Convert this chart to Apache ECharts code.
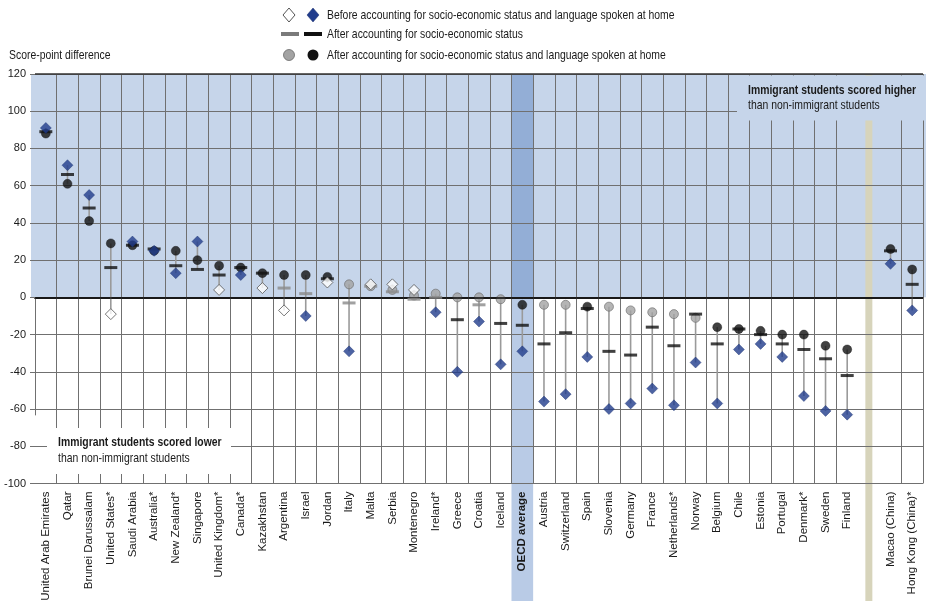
<!DOCTYPE html>
<html>
<head>
<meta charset="utf-8">
<script src="https://cdn.jsdelivr.net/npm/echarts/dist/echarts.min.js"></script>
<style>
  html, body { margin: 0; padding: 0; background: #ffffff; }
  #chart { width: 926px; height: 601px; }
</style>
</head>
<body>
<div id="chart"></div>
<script>
// Categories (the empty entry is the separator before the partner economies)
const countries = [
  'United Arab Emirates', 'Qatar', 'Brunei Darussalam', 'United States*', 'Saudi Arabia',
  'Australia*', 'New Zealand*', 'Singapore', 'United Kingdom*', 'Canada*', 'Kazakhstan',
  'Argentina', 'Israel', 'Jordan', 'Italy', 'Malta', 'Serbia', 'Montenegro', 'Ireland*',
  'Greece', 'Croatia', 'Iceland', 'OECD average', 'Austria', 'Switzerland', 'Spain',
  'Slovenia', 'Germany', 'France', 'Netherlands*', 'Norway', 'Belgium', 'Chile', 'Estonia',
  'Portugal', 'Denmark*', 'Sweden', 'Finland', '', 'Macao (China)', 'Hong Kong (China)*'
];

// Score-point difference before accounting for socio-economic status and language
const beforeAdj = [
  91, 71, 55, -9, 30, 25, 13, 30, 4, 12, 5, -7, -10, 8, -29, 7, 7, 4, -8,
  -40, -13, -36, -29, -56, -52, -32, -60, -57, -49, -58, -35, -57, -28, -25,
  -32, -53, -61, -63, null, 18, -7
];
// After accounting for socio-economic status
const afterSES = [
  89, 66, 48, 16, 28, 26, 17, 15, 12, 16, 13, 5, 2, 10, -3, 6, 3, -1, 0,
  -12, -4, -14, -15, -25, -19, -6, -29, -31, -16, -26, -9, -25, -17, -20,
  -25, -28, -33, -42, null, 25, 7
];
// After accounting for socio-economic status and language spoken at home
const afterSESLang = [
  88, 61, 41, 29, 28, 25, 25, 20, 17, 16, 13, 12, 12, 11, 7, 6, 4, 1, 2,
  0, 0, -1, -4, -4, -4, -5, -5, -7, -8, -9, -11, -16, -17, -18,
  -20, -20, -26, -28, null, 26, 15
];
// Statistically significant differences (1) are drawn in darker colours
const beforeSig = [
  1, 1, 1, 0, 1, 1, 1, 1, 0, 1, 0, 0, 1, 0, 1, 0, 0, 0, 1,
  1, 1, 1, 1, 1, 1, 1, 1, 1, 1, 1, 1, 1, 1, 1, 1, 1, 1, 1, 0, 1, 1
];
const sesSig = [
  1, 1, 1, 1, 1, 1, 1, 1, 1, 1, 1, 0, 0, 1, 0, 0, 0, 0, 0,
  1, 0, 1, 1, 1, 1, 1, 1, 1, 1, 1, 1, 1, 1, 1, 1, 1, 1, 1, 0, 1, 1
];
const langSig = [
  1, 1, 1, 1, 1, 1, 1, 1, 1, 1, 1, 1, 1, 1, 0, 0, 0, 0, 0,
  0, 0, 0, 1, 0, 0, 1, 0, 0, 0, 0, 0, 1, 1, 1, 1, 1, 1, 1, 0, 1, 1
];

// Value axis ticks
const yMin = -100, yMax = 120, yStep = 20;

const legendLabels = [
  'Before accounting for socio-economic status and language spoken at home',
  'After accounting for socio-economic status',
  'After accounting for socio-economic status and language spoken at home'
];
const yAxisTitle = 'Score-point difference';
const noteHigher = ['Immigrant students scored higher', 'than non-immigrant students'];
const noteLower = ['Immigrant students scored lower', 'than non-immigrant students'];

const FONT = '"Liberation Sans", Arial, sans-serif';
const C = {
  gridLine: '#707070',
  blueBg: '#c6d5ea',
  oecdUpper: '#93aed6',
  oecdLower: '#b9cbe6',
  tan: '#d7d4bb',
  navy: '#203c8c',
  greyFill: '#a3a3a3',
  greyEdge: '#6a6a6a',
  stem: '#9a9a9a',
  text: '#1a1a1a'
};

const gapIndex = countries.indexOf('');
const oecdIndex = countries.indexOf('OECD average');
const hiddenBoundaries = [gapIndex, gapIndex + 1];

const idx = countries.map((_, i) => i).filter(i => beforeAdj[i] != null);

const stemData = idx.map(i => {
  const vals = [beforeAdj[i], afterSES[i], afterSESLang[i]];
  return [i, Math.min(...vals), Math.max(...vals)];
});

const circleData = idx.map(i => ({
  value: [i, afterSESLang[i]],
  itemStyle: langSig[i]
    ? { color: '#111111', borderColor: '#111111', borderWidth: 0.5 }
    : { color: C.greyFill, borderColor: C.greyEdge, borderWidth: 0.8 }
}));
const dashData = idx.map(i => ({
  value: [i, afterSES[i]],
  itemStyle: { color: sesSig[i] ? '#111111' : '#8a8a8a' }
}));
const diamondData = idx.map(i => ({
  value: [i, beforeAdj[i]],
  itemStyle: beforeSig[i]
    ? { color: C.navy, borderColor: '#1a2f6e', borderWidth: 0.5 }
    : { color: '#ffffff', borderColor: '#555555', borderWidth: 1 }
}));

const option = {
  animation: false,
  backgroundColor: '#ffffff',
  grid: { left: 35, right: 3, top: 74, bottom: 117.5, containLabel: false, outerBoundsMode: 'none' },
  xAxis: {
    type: 'category',
    data: countries,
    boundaryGap: true,
    z: 1,
    axisLine: { show: true, lineStyle: { color: '#333333', width: 2 } },
    axisTick: {
      show: true,
      length: 118,
      interval: (i) => !hiddenBoundaries.includes(i),
      lineStyle: { color: C.gridLine, width: 1 }
    },
    splitLine: {
      show: true,
      interval: (i) => i !== 0 && !hiddenBoundaries.includes(i),
      lineStyle: { color: C.gridLine, width: 1 }
    },
    axisLabel: {
      interval: 0,
      rotate: 90,
      margin: 8,
      hideOverlap: false,
      fontFamily: FONT,
      fontSize: 11.5,
      color: C.text,
      formatter: (v) => v === 'OECD average' ? '{b|' + v + '}' : v,
      rich: { b: { fontFamily: FONT, fontSize: 11.5, fontWeight: 'bold', color: C.text } }
    }
  },
  yAxis: {
    type: 'value',
    min: yMin,
    max: yMax,
    interval: yStep,
    z: 1,
    axisLine: { show: false },
    axisTick: { show: true, length: 5, lineStyle: { color: C.gridLine } },
    splitLine: { show: true, lineStyle: { color: C.gridLine, width: 1 } },
    axisLabel: { margin: 9, fontFamily: FONT, fontSize: 11, color: C.text }
  },
  series: [
    {
      type: 'custom',
      z: 3,
      silent: true,
      data: stemData,
      renderItem: (params, api) => {
        const a = api.coord([api.value(0), api.value(1)]);
        const b = api.coord([api.value(0), api.value(2)]);
        return {
          type: 'line',
          shape: { x1: a[0], y1: a[1], x2: b[0], y2: b[1] },
          style: { stroke: C.stem, lineWidth: 1.6 }
        };
      },
      markLine: {
        silent: true,
        symbol: 'none',
        label: { show: false },
        data: [
          { yAxis: 0, lineStyle: { color: '#111111', width: 1.6, type: 'solid' } },
          { yAxis: yMax, lineStyle: { color: '#333333', width: 1.6, type: 'solid' } }
        ]
      }
    },
    {
      name: legendLabels[2],
      type: 'scatter',
      z: 4,
      symbol: 'circle',
      symbolSize: 9,
      data: circleData
    },
    {
      name: legendLabels[1],
      type: 'scatter',
      z: 5,
      symbol: 'rect',
      symbolSize: [13, 3],
      data: dashData
    },
    {
      name: legendLabels[0],
      type: 'scatter',
      z: 6,
      symbol: 'diamond',
      symbolSize: 11,
      data: diamondData
    }
  ]
};

const chart = echarts.init(document.getElementById('chart'), null, { renderer: 'canvas' });
chart.setOption(option);

// Background bands and notes, placed through the axes' own scales
const px = (i) => chart.convertToPixel({ xAxisIndex: 0 }, i);
const py = (v) => chart.convertToPixel({ yAxisIndex: 0 }, v);
const colW = px(1) - px(0);
const yTop = py(yMax), yZero = py(0), yBottom = py(yMin);
const H = 601;

// Horizontally condensed text, as in the printed figure
const label = (t, x, y, bold) => ({
  type: 'text', x: x, y: y, z: 7, scaleX: 0.8,
  style: {
    text: t, fontFamily: FONT, fontSize: 13,
    fontWeight: bold ? 'bold' : 'normal',
    fill: C.text, verticalAlign: 'middle'
  }
});

const graphics = [
  // positive-difference background
  { type: 'rect', z: 0, shape: { x: 31, y: yTop, width: 926 - 31, height: yZero - yTop }, style: { fill: C.blueBg } },
  // OECD average column
  { type: 'rect', z: 0, shape: { x: px(oecdIndex) - colW / 2, y: yTop, width: colW, height: yZero - yTop }, style: { fill: C.oecdUpper } },
  { type: 'rect', z: 0, shape: { x: px(oecdIndex) - colW / 2, y: yZero, width: colW, height: H - yZero }, style: { fill: C.oecdLower } },
  // separator before partner economies
  { type: 'rect', z: 0, shape: { x: px(gapIndex) - 3.5, y: yTop, width: 7, height: H - yTop }, style: { fill: C.tan } },

  // notes
  { type: 'rect', z: 2, shape: { x: 737, y: yTop + 1.5, width: 926 - 737, height: 45 }, style: { fill: C.blueBg } },
  label(noteHigher[0], 748, 90, true),
  label(noteHigher[1], 748, 105, false),
  { type: 'rect', z: 2, shape: { x: 47, y: 428, width: 184, height: 46 }, style: { fill: '#ffffff' } },
  label(noteLower[0], 58, 442, true),
  label(noteLower[1], 58, 458, false),

  // axis title
  label(yAxisTitle, 9, 55, false),

  // legend
  { type: 'polygon', z: 7, shape: { points: [[289, 8], [295, 15], [289, 22], [283, 15]] }, style: { fill: '#ffffff', stroke: '#555555', lineWidth: 1 } },
  { type: 'polygon', z: 7, shape: { points: [[313, 8], [319, 15], [313, 22], [307, 15]] }, style: { fill: C.navy, stroke: '#1a2f6e', lineWidth: 0.5 } },
  label(legendLabels[0], 327, 15, false),
  { type: 'rect', z: 7, shape: { x: 281, y: 32, width: 18, height: 4 }, style: { fill: '#7a7a7a' } },
  { type: 'rect', z: 7, shape: { x: 304, y: 32, width: 18, height: 4 }, style: { fill: '#111111' } },
  label(legendLabels[1], 327, 34, false),
  { type: 'circle', z: 7, shape: { cx: 289, cy: 55, r: 5.5 }, style: { fill: C.greyFill, stroke: C.greyEdge, lineWidth: 0.8 } },
  { type: 'circle', z: 7, shape: { cx: 313, cy: 55, r: 5.5 }, style: { fill: '#111111' } },
  label(legendLabels[2], 327, 55, false)
];

chart.setOption({ graphic: graphics });
</script>
</body>
</html>
